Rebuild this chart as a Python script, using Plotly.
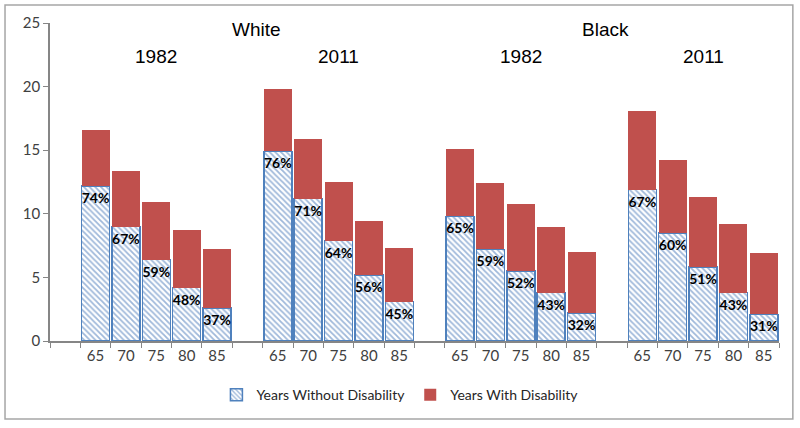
import plotly.graph_objects as go

# data
races = ["White", "Black"]
years = ["1982", "2011", "1982", "2011"]
ages = ["65", "70", "75", "80", "85"]

# years without disability (hatched) per panel: White 1982, White 2011, Black 1982, Black 2011
without_w82 = [12.2, 9.0, 6.4, 4.2, 2.6]
without_w11 = [14.9, 11.2, 7.9, 5.2, 3.1]
without_b82 = [9.8, 7.2, 5.5, 3.8, 2.2]
without_b11 = [11.9, 8.5, 5.8, 3.8, 2.1]

# years with disability (red)
with_w82 = [4.4, 4.4, 4.5, 4.5, 4.6]
with_w11 = [4.9, 4.7, 4.6, 4.2, 4.2]
with_b82 = [5.3, 5.2, 5.3, 5.2, 4.8]
with_b11 = [6.2, 5.7, 5.5, 5.4, 4.8]

pct_w82 = ["74%", "67%", "59%", "48%", "37%"]
pct_w11 = ["76%", "71%", "64%", "56%", "45%"]
pct_b82 = ["65%", "59%", "52%", "43%", "32%"]
pct_b11 = ["67%", "60%", "51%", "43%", "31%"]

without_all = [without_w82, without_w11, without_b82, without_b11]
with_all = [with_w82, with_w11, with_b82, with_b11]
pct_all = [pct_w82, pct_w11, pct_b82, pct_b11]

# one empty slot before each panel of five bars
xs, ywo, ywi, txt, tlab = [], [], [], [], []
for g in range(4):
    for i in range(5):
        xs.append(g * 6 + 1 + i)
        ywo.append(without_all[g][i])
        ywi.append(with_all[g][i])
        txt.append(pct_all[g][i])
        tlab.append(ages[i])

blue = "#4F81BD"
red = "#C0504D"
axis_col = "#868686"

fig = go.Figure()
fig.add_trace(go.Bar(
    x=xs, y=ywo, name="Years Without Disability",
    width=0.92,
    text=txt, textposition="inside", insidetextanchor="end", textangle=0,
    textfont=dict(family="Lato", size=14, color="black", weight="bold"),
    constraintext="none",
    marker=dict(color="white",
                line=dict(color=blue, width=1.5),
                pattern=dict(shape="\\", fgcolor="#3F72B5", bgcolor="white", size=4, solidity=0.45)),
))
fig.add_trace(go.Bar(
    x=xs, y=ywi, name="Years With Disability",
    width=0.92,
    marker=dict(color=red, line=dict(width=0)),
))

# group headers
ann = []
for g in range(4):
    ann.append(dict(x=g * 6 + 3, y=22.4, text=years[g], showarrow=False,
                    font=dict(family="Liberation Sans", size=19, color="black")))
for r, rx in zip(range(2), [6.3, 17.8]):
    ann.append(dict(x=rx, y=24.5, text=races[r], showarrow=False,
                    font=dict(family="Liberation Sans", size=19, color="black")))

fig.update_layout(
    width=800, height=428,
    barmode="stack",
    plot_bgcolor="white", paper_bgcolor="white",
    margin=dict(l=50, r=21, t=23, b=87),
    font=dict(family="Lato", size=14, color="#404040"),
    showlegend=True,
    legend=dict(orientation="h", x=0.48, xanchor="center", y=-0.17, yanchor="middle",
                font=dict(family="Lato", size=14, color="#262626"), traceorder="normal",
                itemwidth=30),
    annotations=ann,
    shapes=[dict(type="rect", xref="paper", yref="paper",
                 x0=-0.0617, x1=1.019, y0=-0.245, y1=1.0566,
                 line=dict(color="#A6A6A6", width=1.5))],
)
fig.update_xaxes(
    range=[-0.5, 23.5], tickvals=xs, ticktext=tlab, ticks="",
    showline=True, linecolor=axis_col, linewidth=1.5, showgrid=False, zeroline=False,
    tickfont=dict(size=15, color="#404040"),
    minor=dict(ticks="outside", ticklen=5, tickcolor=axis_col, tick0=0.5, dtick=1, showgrid=False),
)
fig.update_yaxes(
    range=[0, 25], dtick=5, ticks="outside", ticklen=5, tickcolor=axis_col,
    showline=True, linecolor=axis_col, linewidth=1.5, showgrid=False, zeroline=False,
    tickfont=dict(size=15, color="#404040"),
)

# page body has a default 8px margin; drop it so the chart sits at the window origin
fig.write_html("out.html", config={"displayModeBar": False},
               post_script="document.body.style.margin='0';")
